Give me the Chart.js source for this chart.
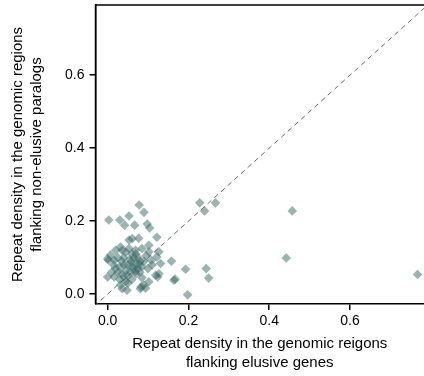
<!DOCTYPE html>
<html>
<head>
<meta charset="utf-8">
<script src="https://cdn.jsdelivr.net/npm/chart.js@4"></script>
<style>
  html, body { margin: 0; padding: 0; background: #fff; }
  canvas { display: block; }
</style>
</head>
<body>
<canvas id="repeatChart" width="424" height="376"></canvas>
<script>
// repeat density: x = elusive genes, y = non-elusive paralogs
const elusiveX = [
    0.003, 0.030, 0.053, 0.078, 0.090, 0.042, 0.067, 0.098, 0.104, 0.122,
    0.053, 0.061, 0.077, 0.102, 0.020, 0.032, 0.127, 0.158, 0.193, 0.244,
    0.250, 0.164, 0.167, 0.124, 0.127, 0.198, 0.228, 0.240, 0.267, 0.457,
    0.442, 0.767,
    0.000, 0.002, 0.007, 0.016, 0.000, 0.016, 0.032, 0.036, 0.048, 0.081,
    0.090, 0.102, 0.040, 0.036, 0.053, 0.069, 0.085, 0.102, 0.122, 0.131,
    0.119, 0.094, 0.083, 0.108,
    0.025, 0.030, 0.035, 0.040, 0.045, 0.050, 0.055, 0.060, 0.065, 0.070,
    0.075, 0.080, 0.085, 0.090, 0.095, 0.050, 0.060, 0.070, 0.030, 0.020,
    0.045, 0.055, 0.065, 0.075, 0.085, 0.040, 0.025, 0.060, 0.070, 0.045,
    0.100, 0.110, 0.035, 0.050, 0.080, 0.058, 0.068, 0.078, 0.010, 0.015
];
const paralogY = [
    0.203, 0.203, 0.214, 0.244, 0.224, 0.189, 0.189, 0.192, 0.181, 0.156,
    0.148, 0.152, 0.153, 0.134, 0.120, 0.129, 0.116, 0.090, 0.068, 0.070,
    0.044, 0.038, 0.041, 0.047, 0.056, -0.002, 0.250, 0.228, 0.250, 0.228,
    0.099, 0.054,
    0.097, 0.093, 0.107, 0.093, 0.047, 0.047, 0.025, 0.015, 0.011, 0.015,
    0.025, 0.034, 0.047, 0.120, 0.125, 0.120, 0.125, 0.116, 0.102, 0.084,
    0.052, 0.016, 0.020, 0.093,
    0.060, 0.075, 0.090, 0.100, 0.065, 0.080, 0.095, 0.110, 0.070, 0.085,
    0.100, 0.060, 0.075, 0.090, 0.105, 0.050, 0.040, 0.055, 0.040, 0.070,
    0.035, 0.060, 0.100, 0.070, 0.045, 0.080, 0.100, 0.075, 0.110, 0.115,
    0.070, 0.080, 0.055, 0.030, 0.090, 0.088, 0.062, 0.082, 0.060, 0.080
];
const diagonalEnds = [-0.05, 0.85];
const tickValues = [0.0, 0.2, 0.4, 0.6];
const xRange = [-0.03, 0.783];
const yRange = [-0.027, 0.792];

const points = elusiveX.map(function(x, i) { return {x: x, y: paralogY[i]}; });
const diagonal = diagonalEnds.map(function(v) { return {x: v, y: v}; });

const fontFamily = '"Liberation Sans", Arial, Helvetica, sans-serif';

const boxPlugin = {
    id: 'box',
    afterDatasetsDraw(chart) {
        const a = chart.chartArea;
        const c = chart.ctx;
        c.save();
        c.strokeStyle = '#000';
        c.lineWidth = 1.5;
        c.beginPath();
        c.moveTo(a.left, a.bottom);
        c.lineTo(a.left, a.top);
        c.lineTo(a.right + 2, a.top);
        c.stroke();
        c.restore();
    }
};

function setTicks(scale) {
    scale.ticks = tickValues.map(function(v) { return {value: v}; });
}

new Chart(document.getElementById('repeatChart').getContext('2d'), {
    type: 'scatter',
    data: {
        datasets: [
            {
                data: diagonal,
                showLine: true,
                borderColor: '#6e6e6e',
                borderWidth: 1,
                borderDash: [5, 4],
                pointRadius: 0,
                order: 2
            },
            {
                data: points,
                pointStyle: 'rectRot',
                pointRadius: 4.8,
                pointBorderWidth: 0,
                backgroundColor: 'rgba(55, 105, 101, 0.5)',
                borderColor: 'rgba(0,0,0,0)',
                order: 1
            }
        ]
    },
    options: {
        responsive: false,
        animation: false,
        layout: { autoPadding: false, padding: { top: 5, right: 0, left: 0, bottom: 0 } },
        plugins: {
            legend: { display: false },
            tooltip: { enabled: false }
        },
        scales: {
            x: {
                type: 'linear',
                min: xRange[0],
                max: xRange[1],
                afterBuildTicks: setTicks,
                afterFit: function(scale) {
                    scale.height = 72;
                    scale.paddingLeft = 0;
                    scale.paddingRight = 0;
                },
                border: { display: true, color: '#000', width: 1.5 },
                grid: { drawOnChartArea: false, drawTicks: true, tickLength: 6, color: '#000', lineWidth: 1.5 },
                ticks: {
                    color: '#000',
                    padding: 3,
                    maxRotation: 0,
                    font: { family: fontFamily, size: 14 },
                    callback: function(v) { return v.toFixed(1); }
                },
                title: {
                    display: true,
                    text: ['Repeat density in the genomic reigons', 'flanking elusive genes'],
                    color: '#000',
                    font: { family: fontFamily, size: 15, lineHeight: '18.5px' },
                    padding: { top: 0, bottom: 4 }
                }
            },
            y: {
                type: 'linear',
                min: yRange[0],
                max: yRange[1],
                afterBuildTicks: setTicks,
                afterFit: function(scale) {
                    scale.width = 95.5;
                    scale.paddingTop = 0;
                    scale.paddingBottom = 0;
                },
                border: { display: true, color: '#000', width: 1.5 },
                grid: { drawOnChartArea: false, drawTicks: true, tickLength: 6, color: '#000', lineWidth: 1.5 },
                ticks: {
                    color: '#000',
                    padding: 5,
                    font: { family: fontFamily, size: 14 },
                    callback: function(v) { return v.toFixed(1); }
                },
                title: {
                    display: true,
                    text: ['Repeat density in the genomic regions', 'flanking non-elusive paralogs'],
                    color: '#000',
                    font: { family: fontFamily, size: 15, lineHeight: '18.5px' },
                    padding: { top: 9, bottom: 0 }
                }
            }
        }
    },
    plugins: [boxPlugin]
});
</script>
</body>
</html>
